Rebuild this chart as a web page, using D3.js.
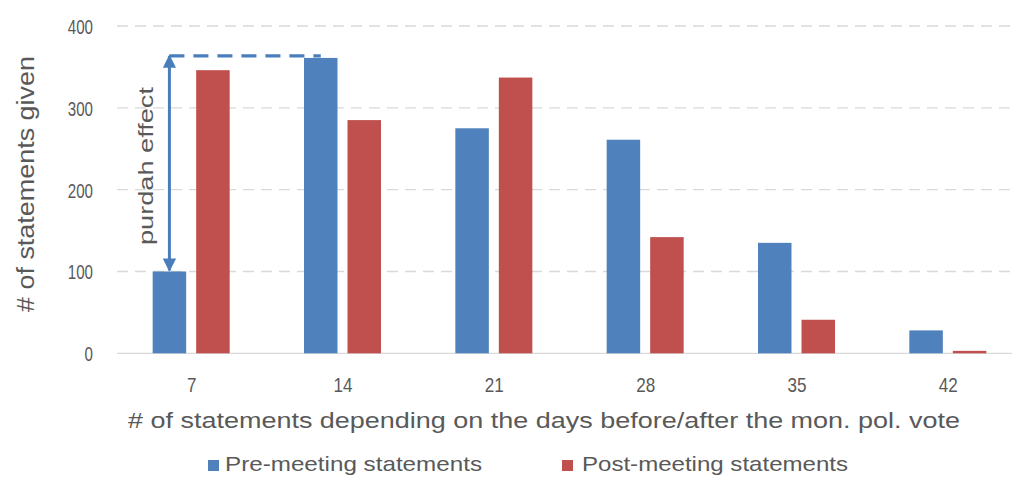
<!DOCTYPE html>
<html>
<head>
<meta charset="utf-8">
<script src="https://cdn.jsdelivr.net/npm/d3@7"></script>
<style>
  html, body { margin: 0; padding: 0; background: #ffffff; }
  svg { display: block; }
  text { font-family: "Liberation Sans", Arial, sans-serif; fill: #595959; }
</style>
</head>
<body>
<svg id="chart" width="1013" height="477"></svg>
<script>
// Days before/after the monetary policy vote
const categories = ["7", "14", "21", "28", "35", "42"];
// Number of statements per window
const preMeeting = [100, 361, 275, 261, 135, 28];
const postMeeting = [346, 285, 337, 142, 41, 3];
const yTicks = [0, 100, 200, 300, 400];
const seriesNames = ["Pre-meeting statements", "Post-meeting statements"];
const seriesKeys = ["pre", "post"];

const colors = { pre: "#4f81bd", post: "#c0504d" };
const svg = d3.select("#chart");

const plotLeft = 117, plotRight = 1012;
const y = d3.scaleLinear().domain([0, 400]).range([353.3, 26]);
const x0 = d3.scaleBand().domain(categories).range([116, 1024]).paddingInner(0).paddingOuter(0);
const half = x0.bandwidth() / 2;
const x1 = d3.scaleBand().domain(seriesKeys).range([half - 39, half + 38]).paddingInner(0.23).paddingOuter(0);

const rows = categories.map((c, i) => ({ cat: c, pre: preMeeting[i], post: postMeeting[i] }));

// Dashed horizontal gridlines
svg.append("g")
  .selectAll("line")
  .data(yTicks.filter(d => d > 0))
  .join("line")
  .attr("x1", plotLeft).attr("x2", plotRight)
  .attr("y1", d => y(d)).attr("y2", d => y(d))
  .attr("stroke", "#d9d9d9")
  .attr("stroke-width", 1.3)
  .attr("stroke-dasharray", "11,7");

// Baseline
svg.append("line")
  .attr("x1", plotLeft).attr("x2", plotRight)
  .attr("y1", y(0)).attr("y2", y(0))
  .attr("stroke", "#d9d9d9").attr("stroke-width", 1.3);

// Y tick labels
svg.append("g")
  .selectAll("text")
  .data(yTicks)
  .join("text")
  .attr("x", 93)
  .attr("y", d => y(d) + 8)
  .attr("text-anchor", "end")
  .attr("font-size", 21)
  .attr("textLength", d => String(d).length * 8.4)
  .attr("lengthAdjust", "spacingAndGlyphs")
  .text(d => d);

// Bars
const groups = svg.append("g")
  .selectAll("g")
  .data(rows)
  .join("g")
  .attr("transform", d => `translate(${x0(d.cat)},0)`);

groups.selectAll("rect")
  .data(d => seriesKeys.map(k => ({ key: k, value: d[k] })))
  .join("rect")
  .attr("x", d => x1(d.key))
  .attr("width", x1.bandwidth())
  .attr("y", d => y(d.value))
  .attr("height", d => y(0) - y(d.value))
  .attr("fill", d => colors[d.key]);

// X tick labels
svg.append("g")
  .selectAll("text")
  .data(categories)
  .join("text")
  .attr("x", d => x0(d) + half)
  .attr("y", 392)
  .attr("text-anchor", "middle")
  .attr("font-size", 21)
  .attr("textLength", d => d.length * 9.5)
  .attr("lengthAdjust", "spacingAndGlyphs")
  .text(d => d);

// Axis titles
svg.append("text")
  .attr("x", 128).attr("y", 428)
  .attr("font-size", 22)
  .attr("textLength", 832)
  .attr("lengthAdjust", "spacingAndGlyphs")
  .text("# of statements depending on the days before/after the mon. pol. vote");

svg.append("text")
  .attr("transform", "translate(34,312) rotate(-90)")
  .attr("font-size", 23)
  .attr("textLength", 256)
  .attr("lengthAdjust", "spacingAndGlyphs")
  .text("# of statements given");

// Purdah effect annotation: arrow between the 7-day and 14-day pre-meeting counts
const annoColor = "#4a7ebb";
const defs = svg.append("defs");
defs.append("marker")
  .attr("id", "arrowHead")
  .attr("viewBox", "0 0 10 10")
  .attr("refX", 9).attr("refY", 5)
  .attr("markerWidth", 4.6).attr("markerHeight", 4.4)
  .attr("markerUnits", "strokeWidth")
  .attr("orient", "auto-start-reverse")
  .append("path")
  .attr("d", "M0,0 L10,5 L0,10 Z")
  .attr("fill", annoColor);

const arrowX = x0(categories[0]) + x1("pre") + x1.bandwidth() / 2;
const peakX = x0(categories[1]) + x1("pre") + x1.bandwidth() / 2;
const topY = y(preMeeting[1]) - 2;

svg.append("line")
  .attr("x1", arrowX).attr("x2", peakX)
  .attr("y1", topY).attr("y2", topY)
  .attr("stroke", annoColor)
  .attr("stroke-width", 3.2)
  .attr("stroke-dasharray", "15,9");

svg.append("line")
  .attr("x1", arrowX).attr("x2", arrowX)
  .attr("y1", topY).attr("y2", y(preMeeting[0]) - 1)
  .attr("stroke", annoColor)
  .attr("stroke-width", 3)
  .attr("marker-start", "url(#arrowHead)")
  .attr("marker-end", "url(#arrowHead)");

svg.append("text")
  .attr("transform", "translate(153,245) rotate(-90)")
  .attr("font-size", 21)
  .attr("textLength", 158)
  .attr("lengthAdjust", "spacingAndGlyphs")
  .text("purdah effect");

// Legend
const legendItems = [
  { key: "pre", name: seriesNames[0], sx: 208, tx: 225, tw: 257 },
  { key: "post", name: seriesNames[1], sx: 562, tx: 582, tw: 266 }
];
const legend = svg.append("g");
legend.selectAll("rect")
  .data(legendItems)
  .join("rect")
  .attr("x", d => d.sx).attr("y", 460)
  .attr("width", 11).attr("height", 11)
  .attr("fill", d => colors[d.key]);
legend.selectAll("text")
  .data(legendItems)
  .join("text")
  .attr("x", d => d.tx).attr("y", 471)
  .attr("font-size", 21)
  .attr("textLength", d => d.tw)
  .attr("lengthAdjust", "spacingAndGlyphs")
  .text(d => d.name);
</script>
</body>
</html>
